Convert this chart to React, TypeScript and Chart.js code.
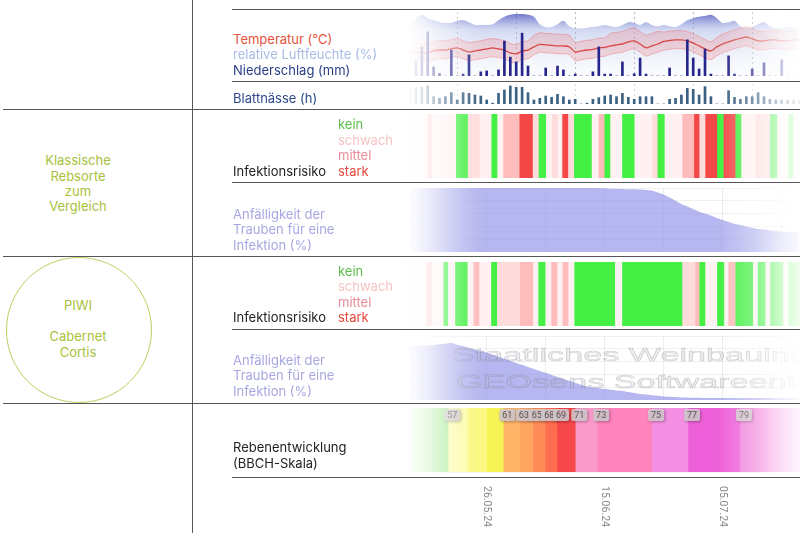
import React, { useEffect, useRef } from 'react';
import { Chart, registerables } from 'chart.js';

Chart.register(...registerables);

// ---------- time axis: day 0 = 13.05.2024 ----------
const dayMax = 66.1;
const gridDays = [13, 23, 33, 43, 53, 63];
const dateTickDays = [13, 33, 53];
const dateTickLabels = ['26.05.24', '15.06.24', '05.07.24'];

// ---------- weather (daily) ----------
const temperatureMean = [14.4, 14.4, 13.9, 13.9, 14.9, 15.4, 15.4, 16, 16.5, 15.4, 14.4, 14.9, 15.4, 16, 16.5, 16, 15.4, 13.9, 13.4, 14.9, 15.4, 17, 18.3, 18, 17.8, 17.5, 17.5, 17, 14.4, 14.9, 15.4, 15.7, 16.5, 16.7, 17.5, 18, 18.5, 19.6, 20.1, 18.5, 16.5, 17.5, 18.5, 19.8, 20.3, 20.6, 20.6, 20.1, 19, 17.5, 16, 14.9, 17, 18.5, 19.6, 20.6, 21.4, 22.1, 21.1, 20.1, 20.1, 20.6, 20.6, 20.1, 20.1, 20.6, 20.6];
const temperatureMax = [19.2, 19.2, 18.7, 18.7, 19.7, 20.2, 20.2, 20.8, 21.3, 20.2, 19.2, 19.7, 20.2, 20.8, 21.3, 20.8, 20.2, 18.7, 18.2, 19.7, 20.2, 23, 24.3, 24, 23.8, 23.5, 23.5, 23, 19.4, 19.9, 20.4, 20.7, 21.5, 21.7, 24, 24.5, 25, 26.1, 26.6, 25, 23, 24, 25, 24.6, 25.1, 25.4, 25.4, 24.9, 23.8, 22.3, 20.8, 19.7, 21.8, 23.7, 24.8, 25.8, 26.6, 27.3, 26.3, 25.1, 25.1, 25.6, 25.6, 25.1, 25.1, 25.6, 25.6];
const temperatureMin = [9.9, 9.9, 9.4, 9.4, 10.4, 10.9, 10.9, 11.5, 12, 10.9, 9.9, 10.4, 10.9, 11.5, 12, 11.5, 10.9, 9.4, 8.9, 10.4, 10.9, 13, 14.3, 14, 13.8, 13.5, 13.5, 13, 9.9, 10.4, 10.9, 11.2, 12, 12.2, 13.3, 13.8, 14.3, 15.4, 15.9, 14.3, 12.3, 13.3, 14.3, 15.3, 15.8, 16.1, 16.1, 15.6, 14.5, 13, 11.5, 10.4, 12.5, 14, 15.1, 16.1, 16.9, 17.6, 16.6, 15.6, 15.6, 16.1, 16.1, 15.6, 15.6, 16.1, 16.1];
const humidity = [85, 91, 96, 91, 88, 85, 84, 84, 87, 88, 85, 81, 81, 81, 82, 88, 93, 96, 97, 97, 96, 93, 82, 78, 78, 82, 87, 79, 76, 76, 77, 78, 79, 81, 79, 78, 81, 85, 84, 81, 85, 81, 79, 81, 79, 78, 82, 88, 91, 93, 94, 96, 91, 84, 85, 87, 79, 76, 78, 82, 85, 79, 76, 76, 78, 78, 78];
const precipitation = [0, 4.4, 9.1, 13.8, 2.8, 0.8, 0, 8.1, 0, 0.6, 6.6, 0, 1.3, 1.6, 0, 1.9, 10.9, 5.9, 4.4, 13.4, 3.1, 0, 0, 2.5, 0, 3.1, 1.9, 0, 0.6, 0, 0, 1.3, 9.1, 0.6, 0.6, 0, 4.4, 0, 0.7, 5.6, 0.6, 0, 0, 0, 2.5, 0, 0, 11.3, 5.6, 2.2, 8.4, 0.6, 0, 0, 6.3, 0.6, 0, 0, 2.2, 0, 4.1, 0, 0, 5, 0, 0, 0];
const leafWetness = [18, 20, 20, 22, 8.8, 6.8, 8.8, 13.6, 4.8, 13.6, 12.8, 10.8, 9.6, 4.8, 1, 12.8, 16.8, 21.6, 20, 20, 13.6, 4.8, 6.8, 9.6, 8, 11.6, 8.8, 4.8, 5.6, 0, 1, 5.6, 7.6, 9.6, 10.8, 8.8, 12.8, 8, 5.6, 8.8, 8.8, 8.8, 0, 0, 5.6, 6.8, 10.8, 18.8, 17.6, 10.8, 20.8, 8.8, 0, 0, 16, 8, 5.6, 8.8, 8.8, 13.6, 8.8, 5.6, 4.8, 4.8, 4.8, 4.8, 4];

// ---------- infection risk (segments: edges in days, level 0 = kein ... 4 = stark) ----------
const riskClassicEdges = [0, 2.9, 3.6, 7.75, 9.75, 11.75, 13.75, 14.75, 15.75, 18.5, 20.75, 21.75, 23, 24, 25, 25.75, 26.75, 27.75, 30.75, 31.9, 32.9, 33.9, 35.9, 38, 41, 41.9, 43.1, 46.1, 48.1, 49, 50, 52, 53.1, 55.1, 56.1, 58.5, 61, 62.2, 64.1, 64.9, 66.1];
const riskClassicLevels = [1, 3, 1, 0, 2, 1, 0, 1, 3, 4, 2, 0, 1, 2, 1, 4, 2, 0, 1, 3, 0, 1, 0, 1, 2, 0, 1, 3, 4, 2, 4, 0, 4, 0, 1, 2, 0, 1, 0, 1];
const riskPiwiEdges = [0, 2.7, 3.6, 5.6, 6.4, 7.6, 9.7, 10.7, 11.7, 13.7, 14.7, 18.6, 20.8, 21.7, 22.9, 23.9, 24.9, 25.8, 26.8, 27.8, 34.7, 35.9, 46.1, 48.3, 49, 50, 52, 53.2, 53.9, 55.1, 58.1, 58.9, 60.2, 61, 63.2, 64.1, 66.1];
const riskPiwiLevels = [1, 3, 1, 0, 1, 0, 1, 3, 1, 0, 2, 3, 1, 0, 1, 3, 1, 3, 1, 0, 1, 0, 2, 3, 0, 1, 0, 1, 3, 0, 1, 0, 1, 0, 1, 0];

// ---------- susceptibility of grapes (%) ----------
const susceptClassic = [100, 100, 100, 100, 100, 100, 100, 100, 100, 100, 100, 100, 100, 100, 100, 100, 100, 100, 100, 100, 100, 100, 100, 100, 100, 100, 100, 100, 100, 100, 100, 100, 100, 99.5, 99, 99, 98.5, 98, 98, 97.5, 97, 96, 93, 90, 85, 80, 75, 71, 67, 63, 60, 57, 53, 50, 47, 44, 42, 40, 38, 36, 35, 34, 33, 32, 31.5, 31, 30];
const susceptPiwi = [84, 84.5, 85, 85.5, 86, 87, 88, 89, 86.5, 84, 81.5, 79, 76.5, 74, 70.8, 67.5, 64.3, 61, 58, 55, 51.5, 48.5, 45.5, 42.5, 39, 36, 33, 30, 27, 24, 21, 19.5, 18.5, 17, 16, 15, 14, 12.5, 11, 9.5, 8.5, 7.5, 6.5, 5.5, 5, 4.5, 4, 4, 3.5, 3.5, 3, 3, 3, 3, 3, 3, 3, 3, 3, 3, 3, 3, 3, 3, 3, 3, 3];

// ---------- BBCH growth stages (segments) ----------
const bbchEdges = [0, 6.45, 9.7, 13, 15.8, 18.6, 20.8, 22.9, 24.9, 28, 31.7, 41, 47.1, 55.9, 66.1];
const bbchStages = [55, 57, 57, 57, 61, 63, 65, 68, 69, 71, 73, 75, 77, 79];

// ---------- styles ----------
const riskColors = ['#44f044', '#fff1f1', '#ffdcdc', '#ffbcbc', '#f44848'];
const bbchShades = ['#a6ea92', '#fdfca8', '#faf87e', '#f6f455', '#ffb468', '#ffa560', '#ff8c58', '#ff6d4f', '#f6474a', '#fa9acb', '#ff83bd', '#f48fe4', '#ee60d9', '#f283dd'];
const FONT = 'Inter, "Noto Sans", sans-serif';

const pts = (arr: number[]) => arr.map((v, i) => ({ x: i, y: v }));

function timeScale(gridColor: string, dash: number[] = [], ticks: number[] = gridDays, z = 0): any {
  return {
    type: 'linear', min: 0, max: dayMax, offset: false, z,
    afterBuildTicks: (s: any) => { s.ticks = ticks.map((v) => ({ value: v })); },
    afterFit: (s: any) => { s.height = 0; },
    ticks: { display: false },
    grid: { color: gridColor, drawTicks: false, lineWidth: 1 },
    border: { display: false, dash },
  };
}
function valueScale(min: number, max: number, gridColor: string | null = null, step = 20, z = 0): any {
  return {
    type: 'linear', min, max, z, position: 'left',
    afterFit: (s: any) => { s.width = 0; },
    ticks: { display: false, stepSize: step },
    grid: { display: !!gridColor, color: gridColor || 'transparent', drawTicks: false },
    border: { display: false },
  };
}
const baseOptions: any = {
  responsive: false, animation: false, devicePixelRatio: 1, events: [],
  layout: { padding: 0 },
  plugins: { legend: { display: false }, tooltip: { enabled: false } },
};

function segmentDatasets(edges: number[], values: number[], colorOf: (i: number) => string) {
  return values.map((v, i) => ({
    label: String(v), data: [[edges[i], edges[i + 1]]], backgroundColor: colorOf(i),
    borderWidth: 0, barPercentage: 1, categoryPercentage: 1, grouped: false, xAxisID: 'x', yAxisID: 'y',
  }));
}

function riskConfig(edges: number[], levels: number[]): any {
  return {
    type: 'bar',
    data: { labels: ['risk'], datasets: segmentDatasets(edges, levels, (i) => riskColors[levels[i]]) },
    options: {
      ...baseOptions, indexAxis: 'y',
      scales: {
        x: timeScale('rgba(0,0,0,0.04)'),
        y: { type: 'category', display: false },
        yg: valueScale(0, 5, 'rgba(0,0,0,0.045)', 1, 1),
      },
    },
  };
}

function areaConfig(values: number[]): any {
  return {
    type: 'line',
    data: { datasets: [{ label: 'Anfälligkeit', data: pts(values), fill: 'start', backgroundColor: 'rgba(140,140,232,0.63)', borderWidth: 0, pointRadius: 0, tension: 0.3 }] },
    options: { ...baseOptions, scales: { x: timeScale('rgba(0,0,0,0.07)'), y: valueScale(0, 100, 'rgba(0,0,0,0.06)', 20) } },
  };
}

const bbchPlugin = {
  id: 'bbchLabels',
  afterDatasetsDraw(chart: any) {
    const { ctx, chartArea, scales } = chart;
    const xs = scales.x;
    ctx.save();
    ctx.font = '9px Roboto, sans-serif';
    ctx.textAlign = 'center';
    ctx.textBaseline = 'middle';
    bbchStages.forEach((st, i) => {
      if (i === 0 || st === bbchStages[i - 1]) return;
      const cx = xs.getPixelForValue(bbchEdges[i] + 0.7);
      const w = 16, h = 12, y0 = chartArea.top + 1;
      ctx.shadowColor = 'rgba(0,0,0,0.35)';
      ctx.shadowBlur = 3; ctx.shadowOffsetX = 1; ctx.shadowOffsetY = 1;
      ctx.fillStyle = 'rgba(212,202,206,0.88)';
      ctx.beginPath();
      if (ctx.roundRect) ctx.roundRect(cx - w / 2, y0, w, h, 2); else ctx.rect(cx - w / 2, y0, w, h);
      ctx.fill();
      ctx.shadowColor = 'transparent';
      ctx.fillStyle = '#555';
      ctx.fillText(String(st), cx, y0 + h / 2 + 0.5);
    });
    ctx.fillStyle = '#8a8a8a';
    ctx.font = '10.5px Roboto, sans-serif';
    ctx.textAlign = 'left';
    dateTickDays.forEach((d, i) => {
      const x = xs.getPixelForValue(d);
      ctx.save();
      ctx.translate(x, chartArea.bottom + 14);
      ctx.rotate(Math.PI / 2);
      ctx.fillText(dateTickLabels[i], 0, 0);
      ctx.restore();
    });
    ctx.restore();
  },
};

const Txt = ({ x, y, color, children, center = false, size = 13 }: any) => (
  <div style={{
    position: 'absolute', left: center ? x - 100 : x, top: y - 8, width: center ? 200 : undefined,
    textAlign: center ? 'center' : 'left', lineHeight: '16px', fontSize: size, color, whiteSpace: 'nowrap', zIndex: 6,
  }}>{children}</div>
);
const HLine = ({ y, x0, x1 = 800 }: any) => (
  <div style={{ position: 'absolute', left: x0, top: y, width: x1 - x0, height: 1, background: '#575757', zIndex: 5 }} />
);

const wmStyle: any = {
  position: 'absolute', fontFamily: '"Liberation Sans", Arial, sans-serif', fontSize: 18, lineHeight: '24px',
  transform: 'scaleX(1.9)', transformOrigin: 'left center', color: 'rgba(185,185,195,0.22)',
  WebkitTextStroke: '0.5px rgba(110,110,120,0.32)', whiteSpace: 'nowrap', zIndex: 2,
};

export default function App() {
  const weatherRef = useRef<HTMLCanvasElement>(null);
  const wetRef = useRef<HTMLCanvasElement>(null);
  const risk1Ref = useRef<HTMLCanvasElement>(null);
  const area1Ref = useRef<HTMLCanvasElement>(null);
  const risk2Ref = useRef<HTMLCanvasElement>(null);
  const area2Ref = useRef<HTMLCanvasElement>(null);
  const bbchRef = useRef<HTMLCanvasElement>(null);

  useEffect(() => {
    const charts: Chart[] = [];
    const humGradient = (c: any) => {
      const { chart } = c;
      const ca = chart.chartArea;
      if (!ca) return 'rgba(160,175,230,0.4)';
      const g = chart.ctx.createLinearGradient(0, ca.top, 0, ca.bottom);
      g.addColorStop(0, 'rgba(80,90,190,0.9)');
      g.addColorStop(0.28, 'rgba(150,165,225,0.42)');
      g.addColorStop(1, 'rgba(215,225,245,0.1)');
      return g;
    };
    charts.push(new Chart(weatherRef.current!, {
      type: 'bar',
      data: {
        datasets: [
          { type: 'bar', label: 'Niederschlag (mm)', data: pts(precipitation), xAxisID: 'x', yAxisID: 'yP', backgroundColor: '#26268c', barThickness: 2, order: 0 },
          { type: 'line', label: 'Temperatur (°C)', data: pts(temperatureMean), xAxisID: 'x', yAxisID: 'yT', borderColor: '#d84646', borderWidth: 1.3, pointRadius: 0, tension: 0.3, fill: false, order: 1 },
          { type: 'line', label: 'Tmax', data: pts(temperatureMax), xAxisID: 'x', yAxisID: 'yT', borderColor: 'rgba(236,120,120,0.5)', borderWidth: 1, backgroundColor: 'rgba(242,130,130,0.27)', fill: '+1', pointRadius: 0, tension: 0.3, order: 2 },
          { type: 'line', label: 'Tmin', data: pts(temperatureMin), xAxisID: 'x', yAxisID: 'yT', borderColor: 'rgba(236,120,120,0.5)', borderWidth: 1, fill: false, pointRadius: 0, tension: 0.3, order: 3 },
          { type: 'line', label: 'relative Luftfeuchte (%)', data: pts(humidity), xAxisID: 'x', yAxisID: 'yH', borderWidth: 0, backgroundColor: humGradient, fill: 'start', pointRadius: 0, tension: 0.35, order: 4 },
        ],
      } as any,
      options: {
        ...baseOptions,
        scales: {
          x: timeScale('rgba(0,0,0,0.28)', [2, 3]),
          yH: valueScale(6, 100),
          yT: valueScale(2, 35),
          yP: valueScale(0, 20),
        },
      },
    }));
    charts.push(new Chart(wetRef.current!, {
      type: 'bar',
      data: { datasets: [{ label: 'Blattnässe (h)', data: pts(leafWetness), backgroundColor: '#3b6183', barThickness: 2 }] } as any,
      options: { ...baseOptions, scales: { x: timeScale('rgba(0,0,0,0.15)', [2, 3]), y: valueScale(0, 24) } },
    }));
    charts.push(new Chart(risk1Ref.current!, riskConfig(riskClassicEdges, riskClassicLevels)));
    charts.push(new Chart(area1Ref.current!, areaConfig(susceptClassic)));
    charts.push(new Chart(risk2Ref.current!, riskConfig(riskPiwiEdges, riskPiwiLevels)));
    charts.push(new Chart(area2Ref.current!, areaConfig(susceptPiwi)));
    charts.push(new Chart(bbchRef.current!, {
      type: 'bar',
      data: { labels: ['bbch'], datasets: segmentDatasets(bbchEdges, bbchStages, (i) => bbchShades[i]) } as any,
      options: {
        ...baseOptions, indexAxis: 'y',
        layout: { padding: { bottom: 61 } },
        scales: {
          x: timeScale('rgba(0,0,0,0.045)', [], Array.from({ length: 67 }, (_, i) => i), 1),
          y: { type: 'category', display: false },
          yg: valueScale(0, 5, 'rgba(0,0,0,0.045)', 1, 1),
        },
      } as any,
      plugins: [bbchPlugin],
    }));
    return () => charts.forEach((c) => c.destroy());
  }, []);

  const cv = (ref: any, top: number, h: number) => (
    <canvas ref={ref} width={390} height={h} style={{ position: 'absolute', left: 410, top, width: 390, height: h, zIndex: 1 }} />
  );

  const green = '#a8c23c';
  const lav = '#a7a7e2';
  return (
    <div style={{ position: 'absolute', left: 0, top: 0, width: 800, height: 533, background: '#fff', overflow: 'hidden', fontFamily: FONT }}>
      {cv(weatherRef, 12, 64)}
      {cv(wetRef, 84, 20)}
      {cv(risk1Ref, 114, 64)}
      {cv(area1Ref, 188, 64)}
      {cv(risk2Ref, 262, 64)}
      {cv(area2Ref, 336, 64)}
      {cv(bbchRef, 408, 125)}

      {/* watermark */}
      <div style={{ ...wmStyle, left: 452, top: 343 }}>Staatliches Weinbauinstitut</div>
      <div style={{ ...wmStyle, left: 456, top: 370 }}>GEOsens Softwareentwicklung</div>

      {/* fades */}
      <div style={{ position: 'absolute', left: 400, top: 10, width: 85, height: 467, zIndex: 3, background: 'linear-gradient(to right, rgba(255,255,255,1) 0px, rgba(255,255,255,0.92) 14px, rgba(255,255,255,0.72) 30px, rgba(255,255,255,0.45) 46px, rgba(255,255,255,0.22) 62px, rgba(255,255,255,0.07) 75px, rgba(255,255,255,0) 85px)' }} />
      <div style={{ position: 'absolute', left: 718, top: 10, width: 82, height: 467, zIndex: 3, background: 'linear-gradient(to right, rgba(255,255,255,0) 0px, rgba(255,255,255,0.32) 35px, rgba(255,255,255,0.72) 62px, rgba(255,255,255,0.92) 82px)' }} />

      {/* layout grid */}
      <div style={{ position: 'absolute', left: 192, top: 0, width: 1, height: 533, background: '#575757', zIndex: 5 }} />
      <HLine y={9} x0={232} />
      <HLine y={81} x0={232} />
      <HLine y={109} x0={3} />
      <HLine y={182} x0={232} />
      <HLine y={256} x0={3} />
      <HLine y={329} x0={232} />
      <HLine y={403} x0={3} />
      <HLine y={477} x0={232} />

      {/* weather labels */}
      <Txt x={233} y={39.3} color="#e4553d">Temperatur (°C)</Txt>
      <Txt x={233} y={54} color="#a9bce6">relative Luftfeuchte (%)</Txt>
      <Txt x={233} y={70} color="#283f88">Niederschlag (mm)</Txt>
      <Txt x={233} y={97.5} color="#2d4a8c">Blattnässe (h)</Txt>

      {/* classic variety */}
      <Txt x={78} y={160} color={green} center>Klassische</Txt>
      <Txt x={78} y={175.5} color={green} center>Rebsorte</Txt>
      <Txt x={78} y={191} color={green} center>zum</Txt>
      <Txt x={78} y={206} color={green} center>Vergleich</Txt>
      <Txt x={338} y={124} color="#5dbf4b">kein</Txt>
      <Txt x={338} y={139.5} color="#f6c4c4">schwach</Txt>
      <Txt x={338} y={155} color="#e98b98">mittel</Txt>
      <Txt x={338} y={170.5} color="#e5463a">stark</Txt>
      <Txt x={233} y={170.5} color="#222">Infektionsrisiko</Txt>
      <Txt x={233} y={213.5} color={lav}>Anfälligkeit der</Txt>
      <Txt x={233} y={229} color={lav}>Trauben für eine</Txt>
      <Txt x={233} y={244.5} color={lav}>Infektion (%)</Txt>

      {/* PIWI */}
      <div style={{ position: 'absolute', left: 78.5 - 73, top: 329.5 - 73, width: 146, height: 146, borderRadius: '50%', border: '1px solid #bfd060', boxSizing: 'border-box', zIndex: 4 }} />
      <Txt x={78} y={305} color={green} center>PIWI</Txt>
      <Txt x={78} y={336} color={green} center>Cabernet</Txt>
      <Txt x={78} y={351.7} color={green} center>Cortis</Txt>
      <Txt x={338} y={270.5} color="#5dbf4b">kein</Txt>
      <Txt x={338} y={286} color="#f6c4c4">schwach</Txt>
      <Txt x={338} y={301.5} color="#e98b98">mittel</Txt>
      <Txt x={338} y={317} color="#e5463a">stark</Txt>
      <Txt x={233} y={317} color="#222">Infektionsrisiko</Txt>
      <Txt x={233} y={359.5} color={lav}>Anfälligkeit der</Txt>
      <Txt x={233} y={375} color={lav}>Trauben für eine</Txt>
      <Txt x={233} y={390.5} color={lav}>Infektion (%)</Txt>

      {/* BBCH */}
      <Txt x={233} y={447} color="#222">Rebenentwicklung</Txt>
      <Txt x={233} y={463} color="#222">(BBCH-Skala)</Txt>
    </div>
  );
}
